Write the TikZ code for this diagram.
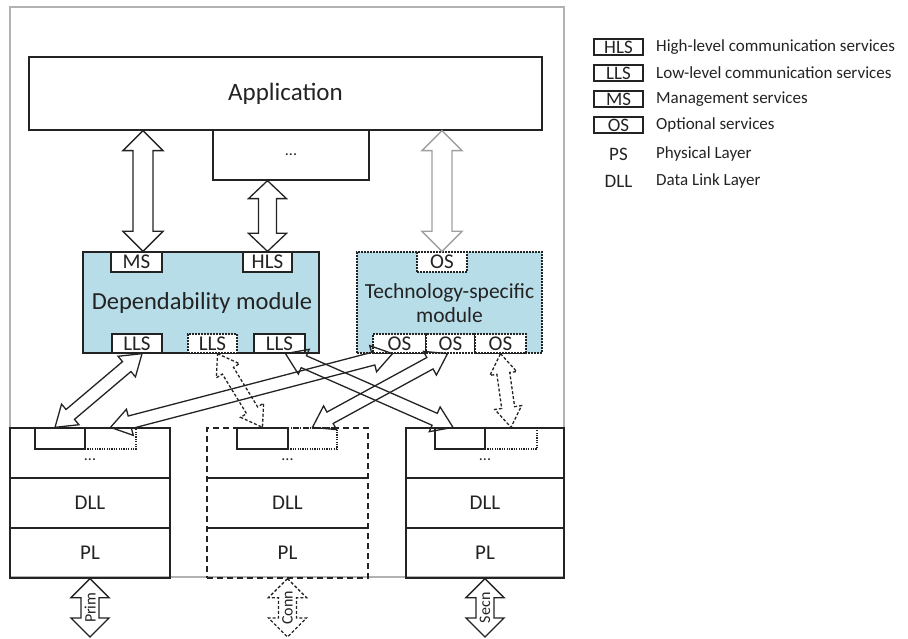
\documentclass[tikz,border=0pt]{standalone}
\usepackage{fontspec}
\setmainfont{Carlito}
\usetikzlibrary{calc}
\newcommand\fsz[1]{\fontsize{#1}{#1}\selectfont}
\newcommand\dbl[6]{%
  \coordinate (dA) at (#2); \coordinate (dB) at (#3);
  \draw[#1] (dA) -- ($(dA)!#6!(dB)!#5!90:(dB)$) -- ($(dA)!#6!(dB)!#4!90:(dB)$)
    -- ($(dB)!#6!(dA)!#4!-90:(dA)$) -- ($(dB)!#6!(dA)!#5!-90:(dA)$) -- (dB)
    -- ($(dB)!#6!(dA)!#5!90:(dA)$) -- ($(dB)!#6!(dA)!#4!90:(dA)$)
    -- ($(dA)!#6!(dB)!#4!-90:(dB)$) -- ($(dA)!#6!(dB)!#5!-90:(dB)$) -- cycle;}
\definecolor{modblue}{RGB}{183,221,232}
\definecolor{ink}{RGB}{35,35,35}
\tikzset{
  frame/.style={draw=gray!60, line width=1.2pt, inner sep=0pt},
  box/.style={draw=ink, line width=1.3pt, inner sep=0pt, text=ink},
  dbox/.style={box, dash pattern=on 6pt off 4pt},
  fbox/.style={box, dash pattern=on 2pt off 1pt},
  dotbox/.style={box, dash pattern=on 1.2pt off 1.2pt},
  svc/.style={box, fill=white, minimum height=20pt, font=\fsz{21}},
  fsvc/.style={svc, dash pattern=on 2pt off 1pt},
  arr/.style={draw=ink, line width=1.3pt, line join=miter},
  garr/.style={draw=gray!75, line width=1.3pt},
  darr/.style={arr, dash pattern=on 3pt off 2pt},
  lay/.style={box, minimum width=#1, minimum height=50pt, font=\fsz{21}},
  dlay/.style={dbox, minimum width=#1, minimum height=50pt, font=\fsz{21}},
  inb/.style={box, minimum height=21pt},
  indot/.style={dotbox, minimum height=21pt},
  leg/.style={box, minimum width=49pt, minimum height=16pt, font=\fsz{19}},
  legt/.style={anchor=west, inner sep=0pt, text=ink, font=\fsz{17}},
  legk/.style={inner sep=0pt, text=ink, font=\fsz{19}},
  albl/.style={rotate=90, inner sep=0pt, text=ink, font=\fsz{16}}
}
\begin{document}
\begin{tikzpicture}[x=1pt,y=-1pt]
\useasboundingbox (0,0) rectangle (908,639);
% outer frame
\node[frame, minimum width=554pt, minimum height=570pt] (frame) at (287,292) {};
% application
\node[box, minimum width=513pt, minimum height=73pt, font=\fsz{25}] (app) at (285.5,93.5) {Application};
\node[box, minimum width=156pt, minimum height=50pt, font=\fsz{16}] (dots) at (291,155) {...};
% dependability module
\node[box, fill=modblue, minimum width=236pt, minimum height=101pt] (dep) at (201,302.5) {};
\node[text=ink, font=\fsz{24.5}, inner sep=0pt] (deptxt) at (202,303) {Dependability module};
\node[svc, minimum width=51pt] (ms) at (136.5,262) {MS};
\node[svc, minimum width=49pt] (hls) at (267.5,262) {HLS};
\node[svc, minimum width=50pt, minimum height=19pt] (lls1) at (137,343.5) {LLS};
\node[fsvc, minimum width=49pt, minimum height=19pt] (lls2) at (212.5,343.5) {LLS};
\node[svc, minimum width=51pt, minimum height=19pt] (lls3) at (279.5,343.5) {LLS};
% technology-specific module
\node[fbox, fill=modblue, minimum width=185pt, minimum height=101pt] (tech) at (449.5,302.5) {};
\node[text=ink, font=\fsz{21.5}, align=center, inner sep=0pt] (techtxt) at (449.5,303) {Technology-specific\\[3pt]module};
\node[fsvc, minimum width=50pt] (ost) at (442,262) {OS};
\node[fsvc, minimum width=53pt, minimum height=19pt] (os1) at (399.5,343.5) {OS};
\node[fsvc, minimum width=49pt, minimum height=19pt] (os2) at (450.5,343.5) {OS};
\node[fsvc, minimum width=51pt, minimum height=19pt] (os3) at (500.5,343.5) {OS};
% lower stacks
\node[lay=160pt] (lt) at (90,453) {};
\node[lay=160pt] (ld) at (90,503) {DLL};
\node[lay=160pt] (lp) at (90,553) {PL};
\node[dlay=161pt] (mt) at (287.5,453) {};
\node[dlay=161pt] (md) at (287.5,503) {DLL};
\node[dlay=161pt] (mp) at (287.5,553) {PL};
\node[lay=158pt] (rt) at (485,453) {};
\node[lay=158pt] (rd) at (485,503) {DLL};
\node[lay=158pt] (rp) at (485,553) {PL};
\node[inb, minimum width=50pt] (li1) at (60,438.5) {};
\node[indot, minimum width=51pt] (li2) at (110.5,438.5) {};
\node[inb, minimum width=51pt] (mi1) at (262.5,438.5) {};
\node[indot, minimum width=49pt] (mi2) at (312.5,438.5) {};
\node[inb, minimum width=50pt] (ri1) at (460,438.5) {};
\node[indot, minimum width=52pt] (ri2) at (511,438.5) {};
\node[text=ink, font=\fsz{16}, inner sep=0pt] (ldots) at (90,460) {...};
\node[text=ink, font=\fsz{16}, inner sep=0pt] (mdots) at (287.5,460) {...};
\node[text=ink, font=\fsz{16}, inner sep=0pt] (rdots) at (485,460) {...};
% top arrows
\coordinate (msA) at ([xshift=6.5pt]ms.north);
\dbl{arr}{msA |- app.south}{msA}{10pt}{20pt}{20pt}
\dbl{arr}{hls.north |- dots.south}{hls.north}{9pt}{19pt}{18pt}
\dbl{garr}{ost.north |- app.south}{ost.north}{10pt}{20pt}{20pt}
% crossing arrows
\dbl{darr}{[xshift=5pt]lls2.south}{mi1.north}{6.5pt}{13.5pt}{20pt}
\dbl{darr}{os3.south}{ri2.north}{6.5pt}{13.5pt}{20pt}
\dbl{arr}{[xshift=5pt]lls1.south}{[xshift=-5pt]li1.north}{6.5pt}{13.5pt}{20pt}
\dbl{arr}{[xshift=-7pt]os1.south}{li2.north}{6.5pt}{13.5pt}{20pt}
\dbl{arr}{[xshift=-3pt]os2.south}{mi2.north}{6.5pt}{13.5pt}{20pt}
\dbl{arr}{[xshift=6pt]lls3.south}{[xshift=-7pt]ri1.north}{6.5pt}{13.5pt}{20pt}
% bottom arrows
\coordinate (pb) at (lp.south |- 0,637);
\coordinate (cb) at (mp.south |- 0,637);
\coordinate (sb) at (rp.south |- 0,637);
\dbl{arr}{lp.south}{pb}{9pt}{19pt}{19pt}
\dbl{darr}{mp.south}{cb}{9pt}{19pt}{19pt}
\dbl{arr}{rp.south}{sb}{9pt}{19pt}{19pt}
\node[albl] (prim) at ($(lp.south)!0.5!(pb)$) {Prim};
\node[albl] (conn) at ($(mp.south)!0.5!(cb)$) {Conn};
\node[albl] (secn) at ($(rp.south)!0.5!(sb)$) {Secn};
% legend
\node[leg] (khls) at (618.5,47) {HLS};
\node[leg] (klls) at (618.5,73) {LLS};
\node[leg] (kms) at (618.5,99) {MS};
\node[leg] (kos) at (618.5,125) {OS};
\node[legk] (kps) at (618.5,154) {PS};
\node[legk] (kdll) at (618.5,181) {DLL};
\node[legt] (thls) at (656,47) {High-level communication services};
\node[legt] (tlls) at (656,73) {Low-level communication services};
\node[legt] (tms) at (656,99) {Management services};
\node[legt] (tos) at (656,125) {Optional services};
\node[legt] (tps) at (656,154) {Physical Layer};
\node[legt] (tdll) at (656,181) {Data Link Layer};
\end{tikzpicture}
\end{document}
